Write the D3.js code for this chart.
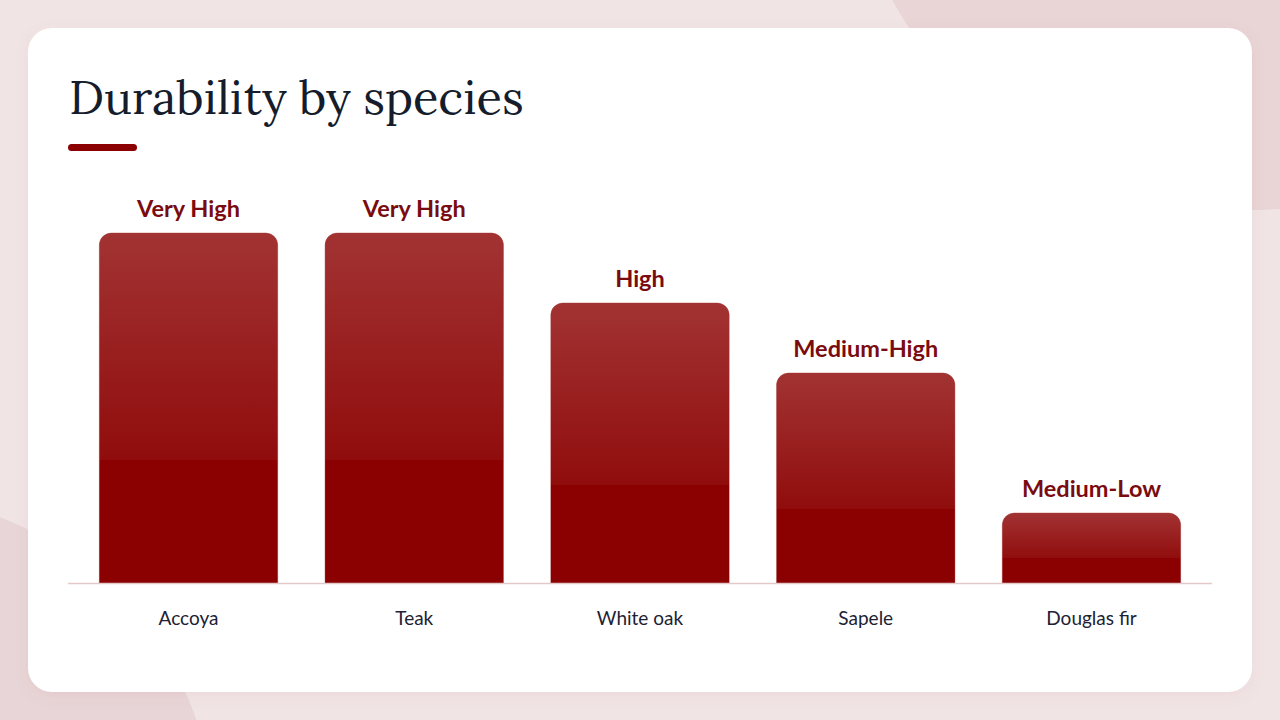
<!DOCTYPE html>
<html>
<head>
<meta charset="utf-8">
<script src="https://cdn.jsdelivr.net/npm/d3@7"></script>
<style>
  html, body { margin: 0; padding: 0; background: #f1e4e5; }
  svg { display: block; }
</style>
</head>
<body>
<svg id="canvas" width="1280" height="720"></svg>
<script>
// chart data
var species = ['Accoya', 'Teak', 'White oak', 'Sapele', 'Douglas fir'];
var durability = [5, 5, 4, 3, 1];
var ratingLabels = ['Very High', 'Very High', 'High', 'Medium-High', 'Medium-Low'];

var svg = d3.select('#canvas');

// background shapes
svg.append('rect').attr('width', 1280).attr('height', 720).attr('fill', '#f1e4e5');
svg.append('circle').attr('cx', 1250).attr('cy', -200).attr('r', 410).attr('fill', '#e9d4d6');
svg.append('circle').attr('cx', -120).attr('cy', 830).attr('r', 335).attr('fill', '#e8d5d7');

var defs = svg.append('defs');

var shadow = defs.append('filter').attr('id', 'shadow')
    .attr('x', '-5%').attr('y', '-5%').attr('width', '110%').attr('height', '115%');
shadow.append('feDropShadow')
    .attr('dx', 0).attr('dy', 4).attr('stdDeviation', 8)
    .attr('flood-color', '#8b0000').attr('flood-opacity', 0.05);

var grad = defs.append('linearGradient').attr('id', 'barShine')
    .attr('x1', 0).attr('y1', 0).attr('x2', 0).attr('y2', 1);
grad.append('stop').attr('offset', '0%').attr('stop-color', '#fff').attr('stop-opacity', 0.2);
grad.append('stop').attr('offset', '65%').attr('stop-color', '#fff').attr('stop-opacity', 0.05);
grad.append('stop').attr('offset', '65%').attr('stop-color', '#fff').attr('stop-opacity', 0);
grad.append('stop').attr('offset', '100%').attr('stop-color', '#fff').attr('stop-opacity', 0);

// card
svg.append('rect')
    .attr('x', 28).attr('y', 28)
    .attr('width', 1224).attr('height', 664)
    .attr('rx', 24)
    .attr('fill', '#fff')
    .attr('filter', 'url(#shadow)');

// title
svg.append('text')
    .attr('x', 69).attr('y', 114)
    .attr('font-family', 'Lora, "Liberation Serif", "DejaVu Serif", serif')
    .attr('font-size', 47)
    .attr('fill', '#151c2c')
    .text('Durability by species');

svg.append('rect')
    .attr('x', 68).attr('y', 144)
    .attr('width', 69).attr('height', 7)
    .attr('rx', 3.5)
    .attr('fill', '#8b0000');

// scales
var x = d3.scaleBand()
    .domain(species)
    .range([70, 1210])
    .paddingInner(0.21)
    .paddingOuter(0.13);

var y = d3.scaleLinear()
    .domain([0, 5])
    .range([583, 233]);

var rows = species.map(function(s, i) {
    return { name: s, value: durability[i], label: ratingLabels[i] };
});

function topRounded(d) {
    var x0 = x(d.name), w = x.bandwidth(), y0 = y(d.value), h = y(0) - y0, r = 12;
    var p = d3.path();
    p.moveTo(x0, y0 + h);
    p.lineTo(x0, y0 + r);
    p.arcTo(x0, y0, x0 + r, y0, r);
    p.lineTo(x0 + w - r, y0);
    p.arcTo(x0 + w, y0, x0 + w, y0 + r, r);
    p.lineTo(x0 + w, y0 + h);
    p.closePath();
    return p.toString();
}

var bars = svg.append('g').selectAll('g')
    .data(rows)
    .enter()
    .append('g');

bars.append('path')
    .attr('d', topRounded)
    .attr('fill', '#8b0000')
    .attr('stroke', '#8b0000')
    .attr('stroke-opacity', 0.4)
    .attr('stroke-width', 0.8);

bars.append('path')
    .attr('d', topRounded)
    .attr('fill', 'url(#barShine)');

// baseline
svg.append('line')
    .attr('x1', 68).attr('x2', 1212)
    .attr('y1', y(0) + 0.5).attr('y2', y(0) + 0.5)
    .attr('stroke', '#e4c9ca')
    .attr('stroke-width', 1.5);

// value labels
bars.append('text')
    .attr('x', function(d) { return x(d.name) + x.bandwidth() / 2; })
    .attr('y', function(d) { return y(d.value) - 16; })
    .attr('text-anchor', 'middle')
    .attr('font-family', 'Lato, "Open Sans", sans-serif')
    .attr('font-weight', 700)
    .attr('font-size', 23.5)
    .attr('fill', '#7a0b0f')
    .text(function(d) { return d.label; });

// category axis
var xAxis = svg.append('g')
    .attr('transform', 'translate(0,' + y(0) + ')')
    .call(d3.axisBottom(x).tickSize(0).tickPadding(29));

xAxis.select('.domain').remove();
xAxis.selectAll('text')
    .attr('font-family', 'Lato, "Open Sans", sans-serif')
    .attr('font-size', 19)
    .attr('fill', '#1c2233');
</script>
</body>
</html>
